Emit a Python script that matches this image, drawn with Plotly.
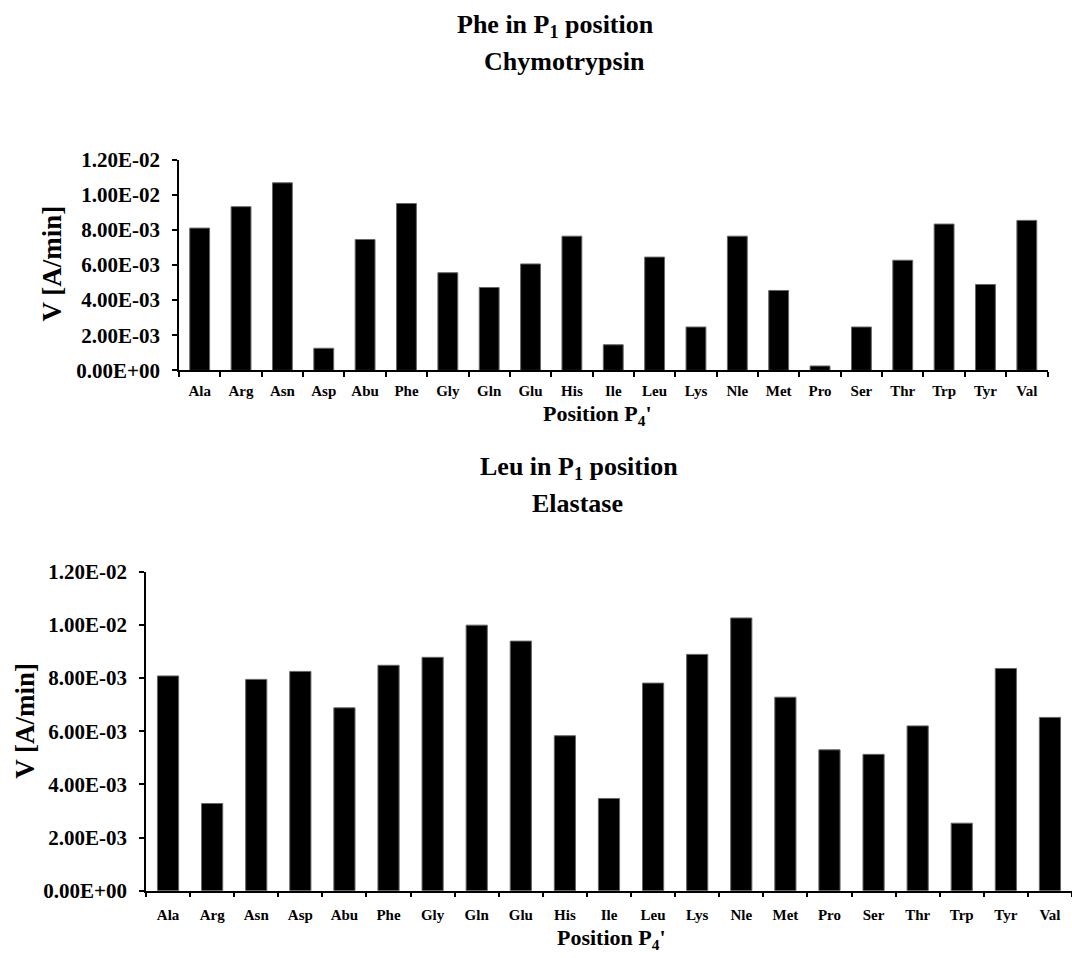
import plotly.graph_objects as go

residues = ["Ala", "Arg", "Asn", "Asp", "Abu", "Phe", "Gly", "Gln", "Glu", "His", "Ile",
            "Leu", "Lys", "Nle", "Met", "Pro", "Ser", "Thr", "Trp", "Tyr", "Val"]

# Initial rates V [A/min] for each P4' residue
chymotrypsin_v = [0.00810, 0.00932, 0.01068, 0.00126, 0.00745, 0.00950, 0.00556, 0.00472,
                  0.00606, 0.00764, 0.00146, 0.00645, 0.00247, 0.00764, 0.00455, 0.00025,
                  0.00247, 0.00627, 0.00833, 0.00489, 0.00854]
elastase_v = [0.00808, 0.00328, 0.00795, 0.00825, 0.00688, 0.00848, 0.00878, 0.00999,
              0.00939, 0.00583, 0.00347, 0.00781, 0.00889, 0.01026, 0.00728, 0.00530,
              0.00513, 0.00620, 0.00254, 0.00836, 0.00652]

y_ticks = [0.0, 0.002, 0.004, 0.006, 0.008, 0.010, 0.012]
y_tick_text = [f"{v:.2E}" for v in y_ticks]

W, H = 1072, 958
FONT = "Liberation Serif"


def px(x):
    return x / W


def py(y):
    return 1 - y / H


fig = go.Figure()

fig.add_trace(go.Bar(x=residues, y=chymotrypsin_v, xaxis="x", yaxis="y",
                     marker=dict(color="black", line=dict(color="#666666", width=1)),
                     showlegend=False))
fig.add_trace(go.Bar(x=residues, y=elastase_v, xaxis="x2", yaxis="y2",
                     marker=dict(color="black", line=dict(color="#666666", width=1)),
                     showlegend=False))

common_x = dict(type="category", showgrid=False, zeroline=False, showline=True,
                linecolor="black", linewidth=1.5, ticks="outside", tickson="boundaries",
                ticklen=5, tickwidth=1.5, tickcolor="black",
                tickfont=dict(family=FONT, size=15, color="black", weight="bold"))
common_y = dict(range=[0, 0.012], showgrid=False, zeroline=False, showline=True,
                linecolor="black", linewidth=1.5, ticks="outside", ticklen=5,
                tickwidth=1.5, tickcolor="black", tickvals=y_ticks, ticktext=y_tick_text,
                tickfont=dict(family=FONT, size=21, color="black", weight="bold"))

fig.update_layout(
    width=W, height=H,
    margin=dict(l=0, r=0, t=0, b=0),
    paper_bgcolor="white", plot_bgcolor="white",
    bargap=0.52,
    xaxis=dict(domain=[px(179), px(1047.5)], anchor="y", ticklabelstandoff=6, **common_x),
    yaxis=dict(domain=[py(367.6), py(151.4)], anchor="x", ticklabelstandoff=8, **common_y),
    xaxis2=dict(domain=[px(146), 1.0], anchor="y2", ticklabelstandoff=10, **common_x),
    yaxis2=dict(domain=[py(901.3), py(574.1)], anchor="x2", ticklabelstandoff=8, **common_y),
)

texts = [
    ("<b>Phe in P<sub>1</sub> position</b>", 555, 14, 26, 0),
    ("<b>Chymotrypsin</b>", 564, 51, 26, 0),
    ("<b>Position P<sub>4</sub>'</b>", 597, 413, 22, 0),
    ("<b>Leu in P<sub>1</sub> position</b>", 579, 468, 26, 0),
    ("<b>Elastase</b>", 577, 504, 26, 0),
    ("<b>Position P<sub>4</sub>'</b>", 611, 951, 22, 0),
    ("<b>V [A/min]</b>", 52, 258, 27, -90),
    ("<b>V [A/min]</b>", 25, 727, 27, -90),
]
for txt, x, y, size, ang in texts:
    fig.add_annotation(text=txt, x=px(x), y=py(y), xref="paper", yref="paper",
                       xanchor="center", yanchor="middle", showarrow=False,
                       textangle=ang, font=dict(family=FONT, size=size, color="black"))

fig.write_html("out.html")
